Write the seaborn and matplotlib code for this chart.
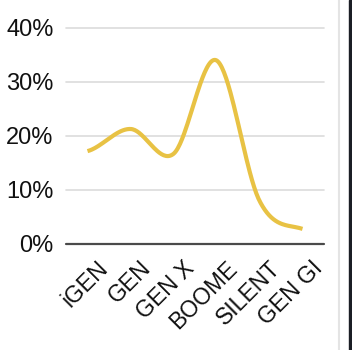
import numpy as np
import pandas as pd
import matplotlib
matplotlib.use("Agg")
import matplotlib.pyplot as plt
from matplotlib.lines import Line2D
from matplotlib.patches import Rectangle
from matplotlib.ticker import FuncFormatter
from matplotlib.transforms import ScaledTranslation
import seaborn as sns

# Share of respondents by generation
generations = ["iGEN", "GEN", "GEN X", "BOOME", "SILENT", "GEN GI"]
share_pct = [17.2, 21.3, 16.7, 34.0, 8.0, 2.8]
y_ticks = [0, 10, 20, 30, 40]

LINE_COLOR = "#E8C244"


def catmull_rom(values, samples=40):
    """Smooth curve through the points (cardinal spline, tension 0)."""
    p = np.asarray(values, dtype=float)
    n = len(p)
    m = np.empty(n)
    m[1:-1] = (p[2:] - p[:-2]) / 2.0
    m[0] = (p[1] - p[0]) / 2.0
    m[-1] = (p[-1] - p[-2]) / 2.0
    xs, ys = [], []
    t = np.linspace(0, 1, samples, endpoint=False)
    for i in range(n - 1):
        h00 = 2 * t**3 - 3 * t**2 + 1
        h10 = t**3 - 2 * t**2 + t
        h01 = -2 * t**3 + 3 * t**2
        h11 = t**3 - t**2
        xs.append(i + t)
        ys.append(h00 * p[i] + h10 * m[i] + h01 * p[i + 1] + h11 * m[i + 1])
    xs.append(np.array([n - 1.0]))
    ys.append(np.array([p[-1]]))
    return np.concatenate(xs), np.concatenate(ys)


sns.set_theme(style="white")
plt.rcParams["font.family"] = ["Liberation Sans", "DejaVu Sans"]

fig = plt.figure(figsize=(3.52, 3.50), dpi=100)
ax = fig.add_axes([66 / 352, 1 - 244 / 350, 258 / 352, 216 / 350])

cx, cy = catmull_rom(share_pct)
curve = pd.DataFrame({"pos": cx, "share": cy})
sns.lineplot(data=curve, x="pos", y="share", ax=ax, color=LINE_COLOR,
             linewidth=3.0, solid_capstyle="butt", sort=False, zorder=3)

ax.set_xlim(-0.5, len(generations) - 0.5)
ax.set_ylim(0, 40)
ax.set_xlabel("")
ax.set_ylabel("")

for v in y_ticks[1:]:
    ax.axhline(v, color="#DCDCDC", linewidth=1.2, zorder=1, clip_on=False)
ax.axhline(0, color="#4A4A4A", linewidth=1.6, zorder=2, clip_on=False)

ax.set_yticks(y_ticks)
ax.yaxis.set_major_formatter(FuncFormatter(lambda v, _: f"{v:.0f}%"))
ax.set_xticks(range(len(generations)))
ax.set_xticklabels(generations, rotation=45, ha="right", va="top",
                   rotation_mode="anchor")
ax.tick_params(axis="y", length=0, pad=9, labelsize=17, labelcolor="#111111")
ax.tick_params(axis="x", length=0, pad=9, labelsize=16.5, labelcolor="#111111")

# nudge the slanted category labels to the right of their tick
shift = ScaledTranslation(9 / 100, 0, fig.dpi_scale_trans)
for lbl in ax.get_xticklabels():
    lbl.set_transform(lbl.get_transform() + shift)

for s in ax.spines.values():
    s.set_visible(False)

# Page edge: thin divider and dark side strip
fig.add_artist(Line2D([339 / 352, 339 / 352], [0, 1], color="#E4E4E4",
                      linewidth=1.5, transform=fig.transFigure))
fig.add_artist(Rectangle((349 / 352, 0), 3 / 352, 1, color="#1B1E25",
                         transform=fig.transFigure))

fig.savefig("out.png", dpi=100)
